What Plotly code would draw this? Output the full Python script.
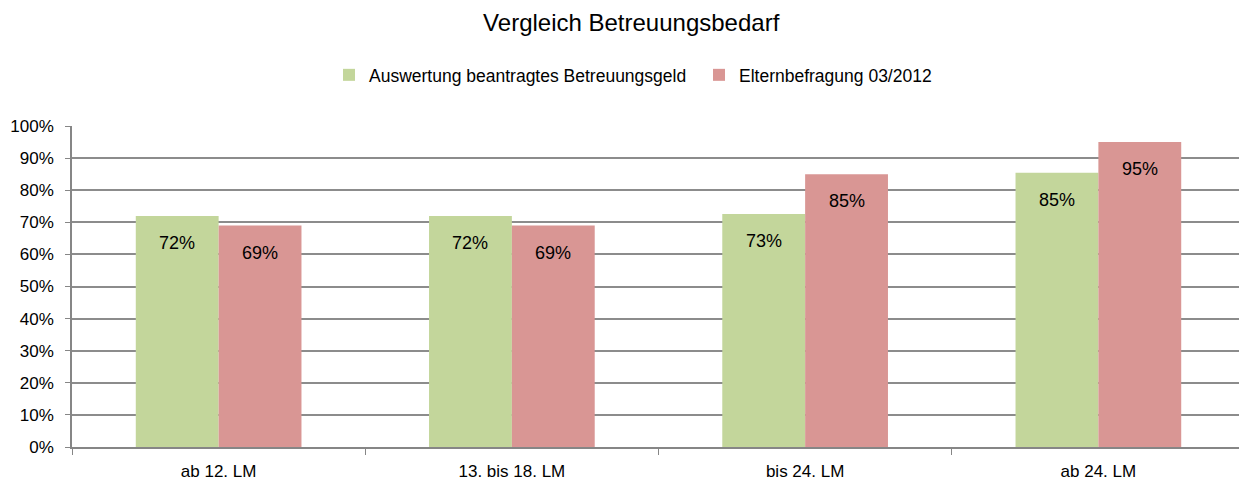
import plotly.graph_objects as go

categories = ["ab 12. LM", "13. bis 18. LM", "bis 24. LM", "ab 24. LM"]
series_names = ["Auswertung beantragtes Betreuungsgeld", "Elternbefragung 03/2012"]
green_vals = [0.72, 0.72, 0.726, 0.854]
red_vals = [0.69, 0.69, 0.85, 0.95]
tick_vals = [i / 10 for i in range(11)]
tick_text = [f"{i*10}%" for i in range(11)]

GREEN = "#C3D69B"
RED = "#D99694"
FONT = "Liberation Sans, Arial, sans-serif"

fig = go.Figure()
for name, vals, col in [(series_names[0], green_vals, GREEN), (series_names[1], red_vals, RED)]:
    fig.add_trace(go.Bar(
        x=categories, y=vals, name=name, marker=dict(color=col, line=dict(width=0)),
        hoverinfo="skip",
    ))

# data labels inside near top of bars
bar_half = 41.5
for vals, shift in [(green_vals, -bar_half), (red_vals, bar_half)]:
    for c, v in zip(categories, vals):
        fig.add_annotation(x=c, y=v, xref="x", yref="y", text=f"{round(v*100)}%",
                           showarrow=False, xshift=shift, yshift=-27, yanchor="middle",
                           font=dict(family=FONT, size=18, color="#000000"))

# page body adds an 8px offset; figure sized to compensate
fig.update_layout(
    width=1239, height=475, autosize=False,
    paper_bgcolor="white", plot_bgcolor="white",
    margin=dict(l=64, r=2, t=118, b=36, autoexpand=False),
    barmode="group", bargap=0.435, bargroupgap=0,
    font=dict(family=FONT, size=17, color="#000000"),
    title=dict(text="Vergleich Betreuungsbedarf", x=0.503, xref="container", xanchor="center",
               y=0.970, yref="container", yanchor="middle",
               font=dict(family=FONT, size=24, color="#000000")),
    legend=dict(orientation="h", xref="paper", x=0.2191, xanchor="left",
                yref="paper", y=1.159, yanchor="middle",
                font=dict(family=FONT, size=17.5), tracegroupgap=0,
                entrywidth=325, bgcolor="rgba(0,0,0,0)"),
    showlegend=True,
)
fig.update_xaxes(
    type="category", tickson="boundaries", ticks="outside", ticklen=6, tickcolor="#868686",
    showline=True, linecolor="#868686", linewidth=1.5, showgrid=False, tickangle=0,
    tickfont=dict(family=FONT, size=17), ticklabelstandoff=8,
    fixedrange=True, automargin=False,
)
fig.update_yaxes(
    range=[0, 1], tickvals=tick_vals, ticktext=tick_text,
    ticks="outside", ticklen=5, tickcolor="#868686",
    showline=True, linecolor="#868686", linewidth=1.5,
    showgrid=True, gridcolor="#8c8c8c", gridwidth=1.5, automargin=False,
    tickfont=dict(family=FONT, size=17), ticklabelstandoff=8, zeroline=False, fixedrange=True,
)

fig.write_html("out.html")
